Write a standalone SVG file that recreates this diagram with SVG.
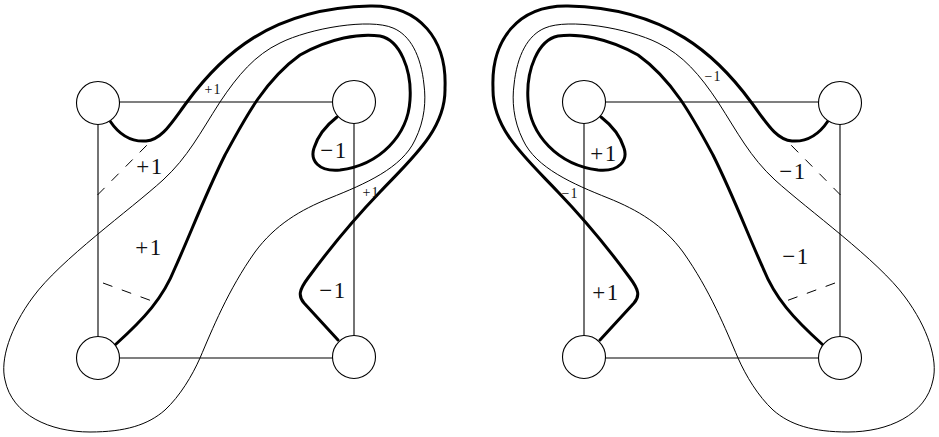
<svg xmlns="http://www.w3.org/2000/svg" width="939" height="437" viewBox="0 0 939 437">
<style>
.edge{fill:none;stroke:#000;stroke-width:1.1}
.thick{fill:none;stroke:#000;stroke-width:3;stroke-linecap:round;stroke-linejoin:round}
.thin{fill:none;stroke:#000;stroke-width:1}
.dash{fill:none;stroke:#000;stroke-width:1;stroke-dasharray:10 10}
.node{fill:#fff;stroke:#000;stroke-width:1.1}
.big{font-family:"Liberation Serif","Times New Roman",serif;font-size:23px;letter-spacing:1.5px;text-anchor:middle;fill:#111}
.small{font-family:"Liberation Serif","Times New Roman",serif;font-size:14px;letter-spacing:1px;text-anchor:middle;fill:#111}
</style>
<defs>
<g id="fig">
<line class="edge" x1="98" y1="102" x2="354" y2="102"/>
<line class="edge" x1="98" y1="103" x2="98" y2="358"/>
<line class="edge" x1="354" y1="102" x2="354" y2="357"/>
<line class="edge" x1="98" y1="358" x2="354" y2="358"/>
<path class="thin" d="M200,358 C212,330 228,290 255,252 C275,225 300,210 330,198 C365,184 402,168 415,140 C425,120 426,100 424,85 C421,55 410,35 393,28 C370,18 310,28 280,43 C255,55 238,75 220,102 C200,133 188,157 163,180 C130,210 60,260 33,297 C10,328 0,360 5,380 C12,415 50,432 90,432 C125,432 148,425 165,410 C180,396 192,376 200,358 Z"/>
<path class="thick" d="M110,121 C120,136 132,142 146,141 C162,140 172,122 187,102 C220,57 270,8 370,6 C420,5 447,40 445,88 C446,130 410,160 380,192 C355,218 330,248 308,278 C299,290 298,296 304,303 L338,340"/>
<path class="thick" d="M115,345 C145,318 163,298 175,268 C190,235 205,195 225,155 C245,118 265,80 300,55 C330,38 360,33 380,36 C400,40 412,70 410,100 C408,135 380,165 340,170 C318,172 310,160 314,148 C318,135 328,124 337,117"/>
<line class="dash" x1="97.5" y1="195" x2="150" y2="142"/>
<line class="dash" x1="103" y1="283" x2="152" y2="301"/>
</g>
</defs>
<g id="connectors">
<use href="#fig"/>
<use href="#fig" transform="matrix(-1 0 0 1 938 0)"/>
</g>
<g id="nodeL1"><circle class="node" cx="98" cy="103" r="21.5"/></g>
<g id="nodeL2"><circle class="node" cx="354" cy="102" r="21.5"/></g>
<g id="nodeL3"><circle class="node" cx="98" cy="358" r="21.5"/></g>
<g id="nodeL4"><circle class="node" cx="354" cy="357" r="21.5"/></g>
<g id="nodeR1"><circle class="node" cx="584" cy="102" r="21.5"/></g>
<g id="nodeR2"><circle class="node" cx="840" cy="103" r="21.5"/></g>
<g id="nodeR3"><circle class="node" cx="584" cy="357" r="21.5"/></g>
<g id="nodeR4"><circle class="node" cx="840" cy="358" r="21.5"/></g>
<g id="labels">
<text class="small" x="213" y="94">+1</text>
<text class="big" x="150" y="174">+1</text>
<text class="big" x="334" y="158">−1</text>
<text class="small" x="371" y="197">+1</text>
<text class="big" x="149" y="255">+1</text>
<text class="big" x="333" y="298">−1</text>
<text class="small" x="713" y="81">−1</text>
<text class="big" x="604" y="161">+1</text>
<text class="big" x="793" y="179">−1</text>
<text class="small" x="570" y="198">−1</text>
<text class="big" x="796" y="264">−1</text>
<text class="big" x="606" y="300">+1</text>
</g>
</svg>
